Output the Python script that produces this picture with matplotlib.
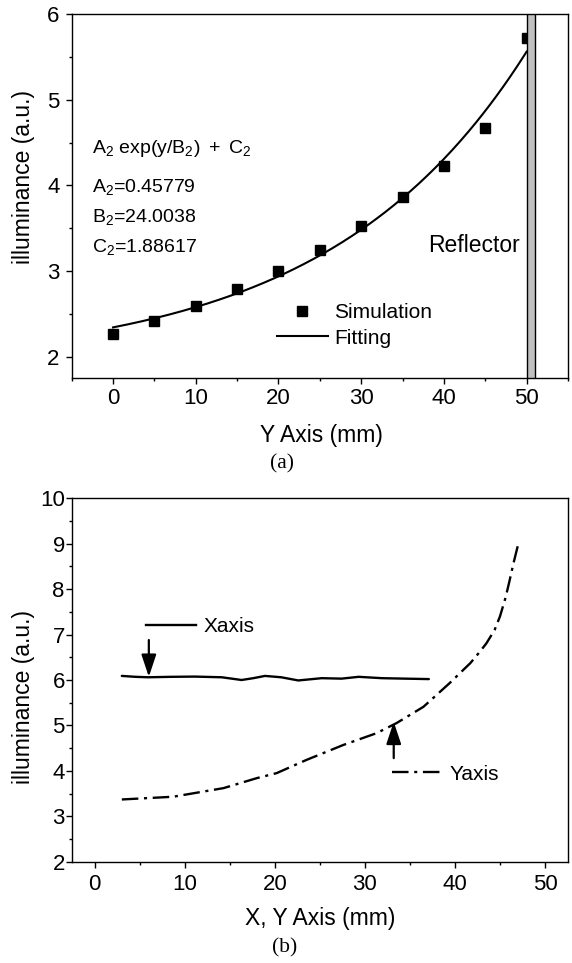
import numpy as np
import matplotlib
matplotlib.use("Agg")
import matplotlib.pyplot as plt
from matplotlib.ticker import MultipleLocator
from matplotlib.lines import Line2D

plt.rcParams["font.family"] = ["Liberation Sans", "DejaVu Sans"]
plt.rcParams["mathtext.fontset"] = "custom"
plt.rcParams["mathtext.rm"] = "Liberation Sans"
plt.rcParams["mathtext.it"] = "Liberation Sans:italic"

# ---- panel (a): illuminance along the Y axis with exponential fit ----
sim_pos = [0, 5, 10, 15, 20, 25, 30, 35, 40, 45, 50]
sim_val = [2.27, 2.42, 2.59, 2.79, 3.00, 3.25, 3.53, 3.86, 4.23, 4.67, 5.72]
fit_A2 = 0.45779
fit_B2 = 24.0038
fit_C2 = 1.88617
reflector_span = (50, 51)

# ---- panel (b): illuminance profiles along X and Y ----
xaxis_pos = [3.0, 4.5, 5.9, 8.5, 11.1, 14.1, 16.3, 17.6, 18.9, 20.7, 22.6,
             25.2, 27.4, 29.3, 31.9, 34.4, 37.1]
xaxis_val = [6.09, 6.07, 6.06, 6.07, 6.075, 6.06, 6.00, 6.04, 6.09, 6.06, 5.99,
             6.04, 6.03, 6.07, 6.04, 6.03, 6.02]
yaxis_pos = [3.0, 8.7, 14.3, 18.0, 20.2, 23.5, 27.6, 31.3, 33.5, 36.5, 39.4,
             41.7, 42.8, 43.5, 44.4, 45.0, 45.6, 46.0, 46.5, 47.1]
yaxis_val = [3.37, 3.43, 3.62, 3.84, 3.95, 4.24, 4.57, 4.83, 5.05, 5.41, 5.93,
             6.37, 6.63, 6.81, 7.10, 7.40, 7.80, 8.13, 8.57, 9.05]

W, H = 572, 963
fig = plt.figure(figsize=(W / 100, H / 100), dpi=100)


def px_axes(left, top, right, bottom):
    return fig.add_axes([left / W, 1 - bottom / H, (right - left) / W, (bottom - top) / H])


TICK_FS = 16
LABEL_FS = 16.5
NOTE_FS = 14
LEG_FS = 15
DASHDOT = (0, (7, 2.4, 1.3, 2.4))


def style_axes(ax, ypad):
    for s in ax.spines.values():
        s.set_linewidth(1.0)
    ax.tick_params(which="both", direction="out", top=False, right=False, width=1.0)
    ax.tick_params(which="major", length=4.2, labelsize=TICK_FS)
    ax.tick_params(which="minor", length=2.3)
    ax.tick_params(axis="y", which="major", pad=ypad)


# ---------------- panel (a) ----------------
ax1 = px_axes(71.7, 14, 568, 378.3)
style_axes(ax1, ypad=4.5)
ax1.tick_params(axis="x", which="major", pad=3.0)
ax1.set_xlim(-5, 55)
ax1.set_ylim(1.75, 6)
ax1.xaxis.set_major_locator(MultipleLocator(10))
ax1.xaxis.set_minor_locator(MultipleLocator(5))
ax1.yaxis.set_major_locator(MultipleLocator(1))
ax1.yaxis.set_minor_locator(MultipleLocator(0.5))

xf = np.linspace(0, 50, 300)
ax1.plot(xf, fit_A2 * np.exp(xf / fit_B2) + fit_C2, color="black", lw=1.5, zorder=3)
ax1.plot(sim_pos, sim_val, linestyle="none", marker="s", markersize=6.8,
         color="black", zorder=4)
ax1.axvspan(*reflector_span, facecolor="#c0c0c0", edgecolor="black", lw=1.0, zorder=5)

ax1.text(-2.5, 4.43, r"$\mathregular{A_2\ exp(y/B_2)\ +\ C_2}$", fontsize=NOTE_FS, va="center", ha="left")
ax1.text(-2.5, 3.98, r"$\mathregular{A_2}$=%.5f" % fit_A2, fontsize=NOTE_FS, va="center", ha="left")
ax1.text(-2.5, 3.63, r"$\mathregular{B_2}$=%.4f" % fit_B2, fontsize=NOTE_FS, va="center", ha="left")
ax1.text(-2.5, 3.28, r"$\mathregular{C_2}$=%.5f" % fit_C2, fontsize=NOTE_FS, va="center", ha="left")
ax1.text(49.2, 3.30, "Reflector", fontsize=16.5, va="center", ha="right")

handles = [Line2D([], [], linestyle="none", marker="s", markersize=6.8, color="black"),
           Line2D([], [], color="black", lw=1.5)]
ax1.legend(handles, ["Simulation", "Fitting"], loc="upper left",
           bbox_to_anchor=(19.8, 2.63), bbox_transform=ax1.transData,
           frameon=False, fontsize=LEG_FS, handlelength=2.45, handletextpad=0.3,
           labelspacing=0.32, borderpad=0, borderaxespad=0)

ax1.set_xlabel("Y Axis (mm)", fontsize=LABEL_FS)
ax1.xaxis.set_label_coords(0.503, -0.126)
ax1.set_ylabel("illuminance (a.u.)", fontsize=LABEL_FS)
ax1.yaxis.set_label_coords(-0.074, 0.553)

fig.text(281.7 / W, 1 - 463.5 / H, "(a)", family=["Liberation Serif", "DejaVu Serif"],
         fontsize=15.5, ha="center", va="center")

# ---------------- panel (b) ----------------
ax2 = px_axes(72.3, 498.3, 567.5, 861.7)
style_axes(ax2, ypad=1.2)
ax2.tick_params(axis="x", which="major", pad=5.0)
ax2.set_xlim(-2.5, 52.5)
ax2.set_ylim(2, 10)
ax2.xaxis.set_major_locator(MultipleLocator(10))
ax2.xaxis.set_minor_locator(MultipleLocator(5))
ax2.yaxis.set_major_locator(MultipleLocator(1))
ax2.yaxis.set_minor_locator(MultipleLocator(0.5))

ax2.plot(xaxis_pos, xaxis_val, color="black", lw=1.7, solid_capstyle="round")
ax2.plot(yaxis_pos, yaxis_val, color="black", lw=1.7, linestyle=DASHDOT)

legx = ax2.legend([Line2D([], [], color="black", lw=1.7)], ["Xaxis"], loc="center left",
                  bbox_to_anchor=(5.7, 7.18), bbox_transform=ax2.transData,
                  frameon=False, fontsize=LEG_FS, handlelength=2.4, handletextpad=0.35,
                  borderpad=0, borderaxespad=0)
ax2.add_artist(legx)
ax2.legend([Line2D([], [], color="black", lw=1.7, linestyle=DASHDOT)], ["Yaxis"],
           loc="center left", bbox_to_anchor=(33.0, 3.93), bbox_transform=ax2.transData,
           frameon=False, fontsize=LEG_FS, handlelength=2.4, handletextpad=0.35,
           borderpad=0, borderaxespad=0)

arrow = dict(arrowstyle="-|>,head_length=0.9,head_width=0.3", color="black", lw=1.6,
             mutation_scale=15, shrinkA=0, shrinkB=0)
ax2.annotate("", xy=(6.0, 6.07), xytext=(6.0, 6.88), arrowprops=arrow)
ax2.annotate("", xy=(33.2, 5.08), xytext=(33.2, 4.28), arrowprops=arrow)

ax2.set_xlabel("X, Y Axis (mm)", fontsize=LABEL_FS)
ax2.xaxis.set_label_coords(0.5, -0.126)
ax2.set_ylabel("illuminance (a.u.)", fontsize=LABEL_FS)
ax2.yaxis.set_label_coords(-0.075, 0.452)

fig.text(285 / W, 1 - 948 / H, "(b)", family=["Liberation Serif", "DejaVu Serif"],
         fontsize=15.5, ha="center", va="center")

fig.savefig("out.png", dpi=100, facecolor="white")
